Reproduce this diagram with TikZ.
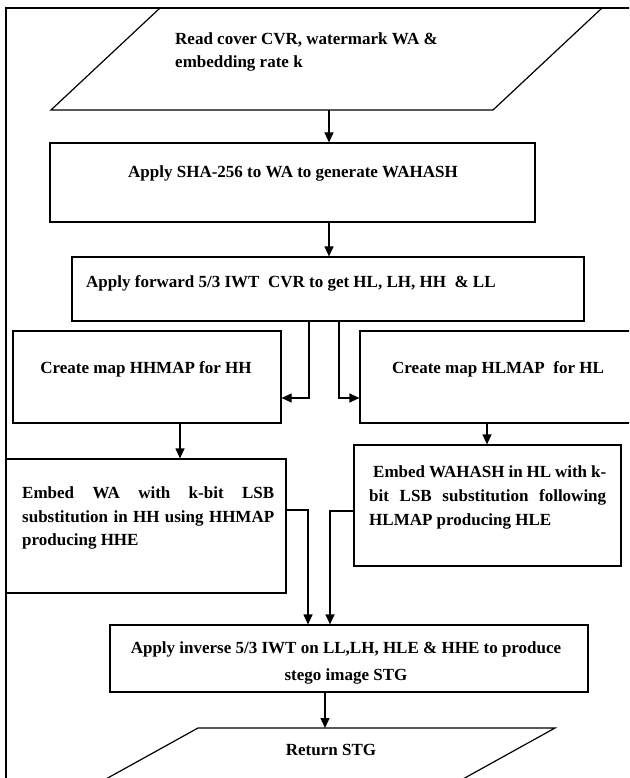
\documentclass[tikz,border=0pt]{standalone}
\usepackage{fontspec}
\setmainfont{Liberation Serif}
\usetikzlibrary{arrows.meta}
\begin{document}
\begin{tikzpicture}[x=1pt,y=-1pt,
  box/.style={draw, line width=1.2pt, inner sep=0pt},
  txt/.style={inner sep=0pt, anchor=base west, font=\bfseries\fontsize{17}{23.5}\selectfont},
  arr/.style={line width=1.2pt, -{Triangle[length=10pt,width=9pt]}},
  edge/.style={line width=1.2pt}]
\useasboundingbox (0,0) rectangle (629,778);
\begin{scope}
\clip (0,0) rectangle (629,778);

% outer frame (top and left sides)
\draw[line width=1.4pt] (640,8) -- (6,8) -- (6,790);

% input parallelogram
\draw[edge] (160,8) -- (602,8) -- (493,110) -- (51,110) -- cycle;
\coordinate (in1) at (329,110);
\node[txt] (t1a) at (175,45) {Read cover CVR, watermark WA \&};
\node[txt] (t1b) at (175,68) {embedding rate k};

% process boxes
\node[box, minimum width=485pt, minimum height=79pt] (sha) at (292.5,182.5) {};
\node[txt, anchor=base] (tsha) at (293,178) {Apply SHA-256 to WA to generate WAHASH};

\node[box, minimum width=512pt, minimum height=64pt] (iwt) at (328,289) {};
\node[txt] (tiwt) at (86,287) {Apply forward 5/3 IWT\ \ CVR to get HL, LH, HH\ \ \& LL};

\node[box, minimum width=268pt, minimum height=92pt] (hh) at (147,377) {};
\node[txt, anchor=base] (thh) at (146,373) {Create map HHMAP for HH};

\node[box, minimum width=300pt, minimum height=92pt] (hl) at (510,377) {};
\node[txt] (thl) at (392,373) {Create map HLMAP\ \ for HL};

\node[box, minimum width=280pt, minimum height=134pt] (el) at (146,526) {};
\node[txt] (tel1) at (22,498) {\makebox[252pt][s]{Embed WA with k-bit LSB}};
\node[txt] (tel2) at (22,522) {\makebox[252pt][s]{substitution in HH using HHMAP}};
\node[txt] (tel3) at (22,545) {producing HHE};

\node[box, minimum width=267pt, minimum height=121pt] (er) at (487.5,505.5) {};
\node[txt] (ter1) at (373,477) {\makebox[233pt][s]{Embed WAHASH in HL with k-}};
\node[txt] (ter2) at (369,501) {\makebox[237pt][s]{bit LSB substitution following}};
\node[txt] (ter3) at (369,525) {HLMAP producing HLE};

\node[box, minimum width=478pt, minimum height=67pt] (inv) at (349,658.5) {};
\node[txt, anchor=base] (tinv1) at (346,653) {Apply inverse 5/3 IWT on LL,LH, HLE \& HHE to produce};
\node[txt, anchor=base] (tinv2) at (346,680) {stego image STG};

% output parallelogram
\draw[edge] (68,800) -- (198,728) -- (555,728) -- (425,800);
\coordinate (ret) at (325,728);
\node[txt, anchor=base] (tret) at (331,755) {Return STG};

% connectors
\draw[arr] (in1) -- (329,0 |- sha.north);
\draw[arr] (329,0 |- sha.south) -- (329,0 |- iwt.north);
\draw[arr] (309,0 |- iwt.south) |- (hh.east |- 0,398);
\draw[arr] (339,0 |- iwt.south) |- (hl.west |- 0,398);
\draw[arr] (180,0 |- hh.south) -- (180,0 |- el.north);
\draw[arr] (487,0 |- hl.south) -- (487,0 |- er.north);
\draw[arr] (el.east |- 0,510) -| (308,0 |- inv.north);
\draw[arr] (er.west |- 0,511) -| (330,0 |- inv.north);
\draw[arr] (325,0 |- inv.south) -- (ret);
\end{scope}
\end{tikzpicture}
\end{document}
